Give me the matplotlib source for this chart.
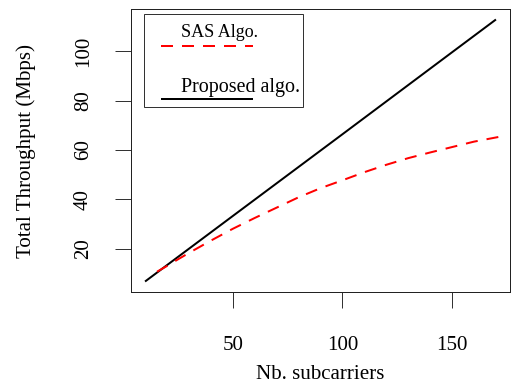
import matplotlib
matplotlib.use("Agg")
import matplotlib.pyplot as plt
from matplotlib.lines import Line2D
from matplotlib.patches import Rectangle

# ---- data ----
x_prop = [10, 50, 100, 150, 170]
y_prop = [6.6, 33.2, 66.4, 99.7, 113.0]

x_sas = [15.5, 20, 25, 30, 40, 50, 60, 70, 80, 90, 100, 110, 120, 130, 140, 150, 160, 173]
y_sas = [10.6, 12.9, 15.6, 18.2, 23.2, 28.0, 32.4, 36.6, 40.8, 44.5, 47.7, 51.0, 54.0, 56.7, 59.0, 61.2, 63.4, 65.6]

x_ticks = [50, 100, 150]
y_ticks = [20, 40, 60, 80, 100]
legend_labels = ["SAS Algo.", "Proposed algo."]
x_label = "Nb. subcarriers"
y_label = "Total Throughput (Mbps)"

W, H = 517, 383
DPI = 72
plt.rcParams['font.family'] = ['Liberation Serif', 'DejaVu Serif']
fig = plt.figure(figsize=(W / DPI, H / DPI), dpi=DPI)
L, R, T, B = 131, 510, 9, 292
ax = fig.add_axes([L / W, 1 - B / H, (R - L) / W, (B - T) / H])

ax.plot(x_prop, y_prop, color='black', lw=2, solid_capstyle='butt')
ax.plot(x_sas, y_sas, color='red', lw=2, dashes=(6, 4.5), dash_capstyle='butt')

# R-style 4% range extension
xr = max(x_prop) - min(x_prop)
ax.set_xlim(min(x_prop) - 0.04 * xr, max(x_prop) + 0.04 * xr)
ymin, ymax = min(y_prop), max(y_prop)
yr = ymax - ymin
ax.set_ylim(ymin - 0.04 * yr, ymax + 0.04 * yr)

ax.set_xticks(x_ticks)
ax.set_yticks(y_ticks)
ax.set_yticklabels([str(v) for v in y_ticks], rotation=90, va='center')
ax.tick_params(axis='both', length=16, width=1, labelsize=21, color='#333333')
ax.tick_params(axis='x', pad=28)
ax.tick_params(axis='y', pad=22)
for s in ax.spines.values():
    s.set_linewidth(1)
    s.set_color('#222222')

ax.set_xlabel(x_label, fontsize=21, labelpad=10)
ax.set_ylabel(y_label, fontsize=21, labelpad=38)

# ---- legend (R-style, text above line) ----
def fx(px):
    return (px - L) / (R - L)

def fy(py):
    return 1 - (py - T) / (B - T)

ax.add_patch(Rectangle((fx(144), fy(107.3)), fx(302.7) - fx(144), fy(14) - fy(107.3),
                       transform=ax.transAxes, fill=False, lw=1, ec='#333333'))
ax.add_line(Line2D([fx(160.7), fx(252.7)], [fy(45.7)] * 2, transform=ax.transAxes,
                   color='red', lw=2, dashes=(6, 4.5), dash_capstyle='butt'))
ax.add_line(Line2D([fx(160.7), fx(252.7)], [fy(99)] * 2, transform=ax.transAxes,
                   color='black', lw=2, solid_capstyle='butt'))
ax.text(fx(181), fy(37), legend_labels[0], transform=ax.transAxes, fontsize=18,
        ha='left', va='baseline')
ax.text(fx(181), fy(91.7), legend_labels[1], transform=ax.transAxes, fontsize=20,
        ha='left', va='baseline')

fig.savefig("out.png", dpi=DPI)
